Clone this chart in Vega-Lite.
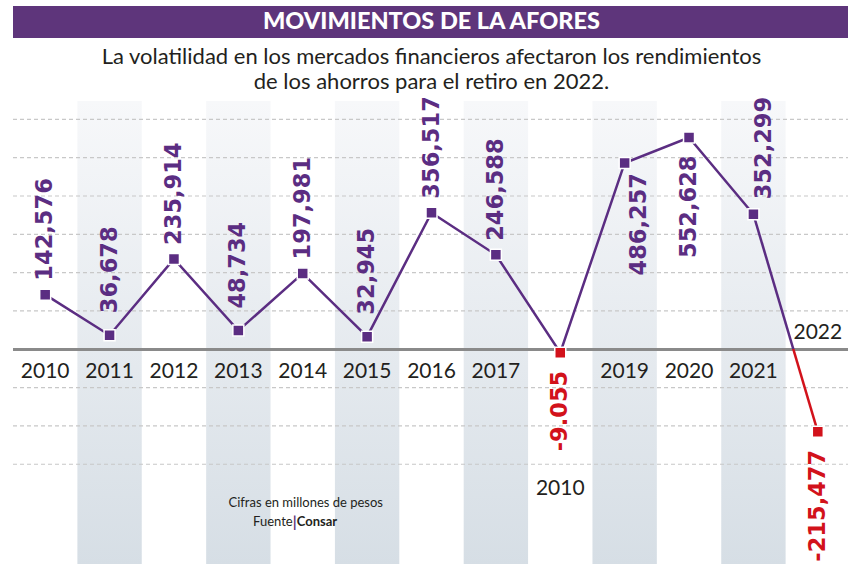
{
  "$schema": "https://vega.github.io/schema/vega-lite/v6.json",
  "padding": {"left": 11, "top": 6, "right": 0, "bottom": 0},
  "spacing": 8,
  "config": {"view": {"stroke": null}, "font": "Lato"},
  "datasets": {
    "afores": [
      {"anio": 2010, "valor": 142576, "cifra": "142,576", "rotulo": "2010"},
      {"anio": 2011, "valor": 36678, "cifra": "36,678", "rotulo": "2011"},
      {"anio": 2012, "valor": 235914, "cifra": "235,914", "rotulo": "2012"},
      {"anio": 2013, "valor": 48734, "cifra": "48,734", "rotulo": "2013"},
      {"anio": 2014, "valor": 197981, "cifra": "197,981", "rotulo": "2014"},
      {"anio": 2015, "valor": 32945, "cifra": "32,945", "rotulo": "2015"},
      {"anio": 2016, "valor": 356517, "cifra": "356,517", "rotulo": "2016"},
      {"anio": 2017, "valor": 246588, "cifra": "246,588", "rotulo": "2017"},
      {"anio": 2018, "valor": -9055, "cifra": "-9.055", "rotulo": "2010"},
      {"anio": 2019, "valor": 486257, "cifra": "486,257", "rotulo": "2019"},
      {"anio": 2020, "valor": 552628, "cifra": "552,628", "rotulo": "2020"},
      {"anio": 2021, "valor": 352299, "cifra": "352,299", "rotulo": "2021"},
      {"anio": 2022, "valor": -215477, "cifra": "-215,477", "rotulo": "2022"}
    ],
    "bandas": [{"anio": 2011}, {"anio": 2013}, {"anio": 2015}, {"anio": 2017}, {"anio": 2019}, {"anio": 2021}],
    "reticula": [{"nivel": -300000}, {"nivel": -200000}, {"nivel": -100000}, {"nivel": 100000}, {"nivel": 200000}, {"nivel": 300000}, {"nivel": 400000}, {"nivel": 500000}, {"nivel": 600000}],
    "notas": [{"nota": "Cifras en millones de pesos", "fuente": "Fuente", "barra": "|", "org": "Consar"}]
  },
  "vconcat": [
    {
      "width": 837,
      "height": 32,
      "view": {"fill": "#5e357b", "stroke": null},
      "data": {"values": [{"titulo": "MOVIMIENTOS DE LA AFORES"}]},
      "mark": {"type": "text", "font": "Lato", "fontWeight": 900, "fontSize": 23.5, "color": "#ffffff", "baseline": "middle", "align": "center"},
      "encoding": {"text": {"field": "titulo"}}
    },
    {
      "width": 837,
      "height": 464,
      "title": {
        "text": ["La volatilidad en los mercados financieros afectaron los rendimientos", "de los ahorros para el retiro en 2022."],
        "font": "Lato",
        "fontSize": 22,
        "fontWeight": "normal",
        "color": "#231f20",
        "lineHeight": 25,
        "anchor": "middle",
        "offset": 2
      },
      "layer": [
        {
          "data": {"name": "bandas"},
          "mark": {"type": "rect", "fill": {"gradient": "linear", "x1": 0, "y1": 0, "x2": 0, "y2": 1, "stops": [{"offset": 0, "color": "#f7f8fa"}, {"offset": 1, "color": "#d6dee5"}]}},
          "encoding": {
            "x": {"field": "anio", "type": "ordinal", "axis": null, "scale": {"domain": [2010, 2011, 2012, 2013, 2014, 2015, 2016, 2017, 2018, 2019, 2020, 2021, 2022], "paddingInner": 0, "paddingOuter": 0}}
          }
        },
        {
          "data": {"name": "reticula"},
          "mark": {"type": "rule", "color": "#c8c8c8", "strokeWidth": 1.2, "strokeDash": [4, 3]},
          "encoding": {
            "y": {"field": "nivel", "type": "quantitative", "axis": null, "scale": {"domain": [-563000, 648000], "nice": false, "zero": false}}
          }
        },
        {
          "data": {"name": "afores"},
          "mark": {"type": "rule", "color": "#8a8a8a", "strokeWidth": 2.2},
          "encoding": {"y": {"datum": 0, "type": "quantitative"}}
        },
        {
          "data": {"name": "afores"},
          "transform": [{"filter": "datum.anio <= 2021"}],
          "mark": {"type": "line", "color": "#5b2d82", "strokeWidth": 2.5},
          "encoding": {
            "x": {"field": "anio", "type": "ordinal"},
            "y": {"field": "valor", "type": "quantitative"}
          }
        },
        {
          "data": {"name": "afores"},
          "transform": [{"filter": "datum.anio >= 2021"}],
          "mark": {"type": "line", "strokeWidth": 2.5, "stroke": {"gradient": "linear", "x1": 0, "y1": 0, "x2": 0, "y2": 1, "stops": [{"offset": 0, "color": "#5b2d82"}, {"offset": 0.62, "color": "#5b2d82"}, {"offset": 0.62, "color": "#d2121b"}, {"offset": 1, "color": "#d2121b"}]}},
          "encoding": {
            "x": {"field": "anio", "type": "ordinal"},
            "y": {"field": "valor", "type": "quantitative"}
          }
        },
        {
          "data": {"name": "afores"},
          "mark": {"type": "square", "size": 121, "opacity": 1, "filled": true, "stroke": "#ffffff", "strokeWidth": 1.5},
          "encoding": {
            "x": {"field": "anio", "type": "ordinal"},
            "y": {"field": "valor", "type": "quantitative"},
            "fill": {"condition": {"test": "datum.valor < 0", "value": "#d2121b"}, "value": "#5b2d82"}
          }
        },
        {
          "data": {"name": "afores"},
          "transform": [{"filter": {"field": "anio", "oneOf": [2010, 2012, 2014, 2016, 2017]}}],
          "mark": {"type": "text", "angle": 270, "align": "left", "baseline": "middle", "dx": 14, "font": "DejaVu Sans", "fontWeight": "bold", "fontSize": 22.5, "color": "#5b2d82"},
          "encoding": {
            "x": {"field": "anio", "type": "ordinal"},
            "y": {"field": "valor", "type": "quantitative"},
            "text": {"field": "cifra"}
          }
        },
        {
          "data": {"name": "afores"},
          "transform": [{"filter": {"field": "anio", "oneOf": [2011, 2013, 2015]}}],
          "mark": {"type": "text", "angle": 270, "align": "left", "baseline": "middle", "dx": 22, "font": "DejaVu Sans", "fontWeight": "bold", "fontSize": 22.5, "color": "#5b2d82"},
          "encoding": {
            "x": {"field": "anio", "type": "ordinal"},
            "y": {"field": "valor", "type": "quantitative"},
            "text": {"field": "cifra"}
          }
        },
        {
          "data": {"name": "afores"},
          "transform": [{"filter": {"field": "anio", "oneOf": [2021]}}],
          "mark": {"type": "text", "angle": 270, "align": "left", "baseline": "middle", "dx": 15, "dy": 11, "font": "DejaVu Sans", "fontWeight": "bold", "fontSize": 22.5, "color": "#5b2d82"},
          "encoding": {
            "x": {"field": "anio", "type": "ordinal"},
            "y": {"field": "valor", "type": "quantitative"},
            "text": {"field": "cifra"}
          }
        },
        {
          "data": {"name": "afores"},
          "transform": [{"filter": {"field": "anio", "oneOf": [2019]}}],
          "mark": {"type": "text", "angle": 270, "align": "right", "baseline": "middle", "dx": -10, "dy": 14, "font": "DejaVu Sans", "fontWeight": "bold", "fontSize": 22.5, "color": "#5b2d82"},
          "encoding": {
            "x": {"field": "anio", "type": "ordinal"},
            "y": {"field": "valor", "type": "quantitative"},
            "text": {"field": "cifra"}
          }
        },
        {
          "data": {"name": "afores"},
          "transform": [{"filter": {"field": "anio", "oneOf": [2018, 2020, 2022]}}],
          "mark": {"type": "text", "angle": 270, "align": "right", "baseline": "middle", "dx": -18, "font": "DejaVu Sans", "fontWeight": "bold", "fontSize": 22.5},
          "encoding": {
            "x": {"field": "anio", "type": "ordinal"},
            "y": {"field": "valor", "type": "quantitative"},
            "text": {"field": "cifra"},
            "color": {"condition": {"test": "datum.valor < 0", "value": "#d2121b"}, "value": "#5b2d82"}
          }
        },
        {
          "data": {"name": "afores"},
          "transform": [{"filter": "datum.anio != 2018 && datum.anio != 2022"}],
          "mark": {"type": "text", "baseline": "top", "dy": 12, "font": "Lato", "fontSize": 21, "color": "#231f20"},
          "encoding": {
            "x": {"field": "anio", "type": "ordinal"},
            "y": {"datum": 0, "type": "quantitative"},
            "text": {"field": "rotulo"}
          }
        },
        {
          "data": {"name": "afores"},
          "transform": [{"filter": "datum.anio == 2018"}],
          "mark": {"type": "text", "baseline": "top", "dy": 129, "font": "Lato", "fontSize": 21, "color": "#231f20"},
          "encoding": {
            "x": {"field": "anio", "type": "ordinal"},
            "y": {"datum": 0, "type": "quantitative"},
            "text": {"field": "rotulo"}
          }
        },
        {
          "data": {"name": "afores"},
          "transform": [{"filter": "datum.anio == 2022"}],
          "mark": {"type": "text", "baseline": "bottom", "dy": -6, "font": "Lato", "fontSize": 21, "color": "#231f20"},
          "encoding": {
            "x": {"field": "anio", "type": "ordinal"},
            "y": {"datum": 0, "type": "quantitative"},
            "text": {"field": "rotulo"}
          }
        },
        {
          "data": {"name": "notas"},
          "mark": {"type": "text", "baseline": "middle", "align": "center", "dx": 3, "font": "Lato", "fontSize": 13, "color": "#231f20"},
          "encoding": {
            "x": {"datum": 2014, "type": "ordinal"},
            "y": {"datum": -400000, "type": "quantitative"},
            "text": {"field": "nota"}
          }
        },
        {
          "data": {"name": "notas"},
          "mark": {"type": "text", "baseline": "middle", "align": "right", "dx": -10, "font": "Lato", "fontSize": 13, "color": "#231f20"},
          "encoding": {
            "x": {"datum": 2014, "type": "ordinal"},
            "y": {"datum": -450000, "type": "quantitative"},
            "text": {"field": "fuente"}
          }
        },
        {
          "data": {"name": "notas"},
          "mark": {"type": "text", "baseline": "middle", "align": "center", "dx": -8, "font": "Lato", "fontWeight": "bold", "fontSize": 15, "color": "#5e357b"},
          "encoding": {
            "x": {"datum": 2014, "type": "ordinal"},
            "y": {"datum": -450000, "type": "quantitative"},
            "text": {"field": "barra"}
          }
        },
        {
          "data": {"name": "notas"},
          "mark": {"type": "text", "baseline": "middle", "align": "left", "dx": -6, "font": "Lato", "fontWeight": "bold", "fontSize": 13, "color": "#231f20"},
          "encoding": {
            "x": {"datum": 2014, "type": "ordinal"},
            "y": {"datum": -450000, "type": "quantitative"},
            "text": {"field": "org"}
          }
        }
      ]
    }
  ]
}
